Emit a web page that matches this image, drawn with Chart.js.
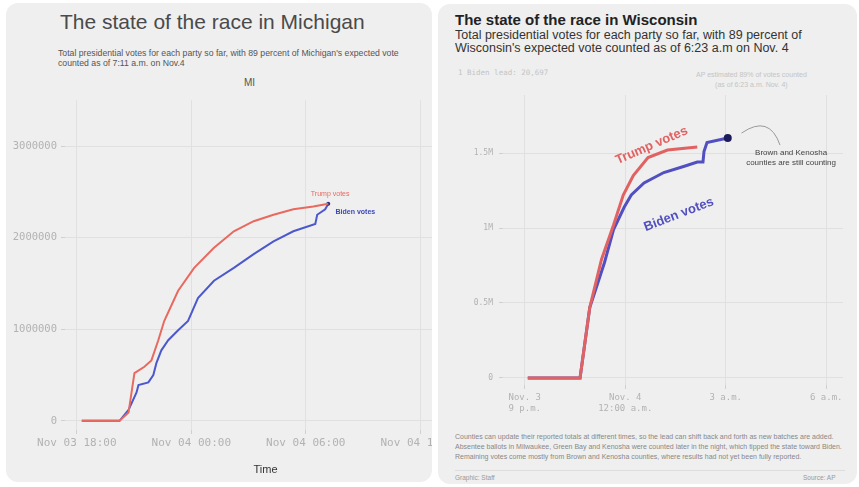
<!DOCTYPE html>
<html>
<head>
<meta charset="utf-8">
<script src="https://cdn.jsdelivr.net/npm/chart.js@4"></script>
<style>
  body { margin: 0; background: #fff; font-family: "Liberation Sans", Arial, sans-serif; }
  .card { position: absolute; background: #efefef; border-radius: 12px; overflow: hidden; }
  #mi { left: 6px; top: 3px; width: 426px; height: 479px; }
  #wi { left: 438px; top: 4px; width: 419px; height: 480px; }
  .t { position: absolute; white-space: nowrap; }
  canvas { position: absolute; }
</style>
</head>
<body>
<div class="card" id="mi">
  <div class="t" style="left:54px;top:7px;font-size:21px;color:#4a4a4a;">The state of the race in Michigan</div>
  <div class="t" style="left:52px;top:45px;font-size:8.7px;line-height:10px;color:#555;">Total presidential votes for each party so far, with 89 percent of Michigan's expected vote<br>counted as of 7:11 a.m. on Nov.4</div>
  <div class="t" style="left:238px;top:74px;font-size:10px;color:#555;">MI</div>
  <canvas id="miChart" width="462" height="390" style="left:2px;top:87px;"></canvas>
</div>
<div class="card" id="wi">
  <div class="t" style="left:17px;top:7px;font-size:15px;font-weight:bold;color:#222;">The state of the race in Wisconsin</div>
  <div class="t" style="left:17px;top:25px;font-size:12.5px;line-height:13px;color:#333;">Total presidential votes for each party so far, with 89 percent of<br>Wisconsin's expected vote counted as of 6:23 a.m on Nov. 4</div>
  <div class="t" style="left:20px;top:64px;font-size:7.5px;color:#c4c4c4;font-family:'DejaVu Sans Mono';">1 Biden lead: 20,697</div>
  <div class="t" style="left:258px;top:66px;font-size:7px;line-height:10px;color:#c4c4c4;text-align:center;">AP estimated 89% of votes counted<br>(as of 6:23 a.m. Nov. 4)</div>
  <canvas id="wiChart" width="415" height="350" style="left:2px;top:74px;"></canvas>
  <div class="t" style="left:17px;top:428px;font-size:7px;line-height:10px;color:#888;">Counties can update their reported totals at different times, so the lead can shift back and forth as new batches are added.<br>Absentee ballots in Milwaukee, Green Bay and Kenosha were counted later in the night, which tipped the state toward Biden.<br>Remaining votes come mostly from Brown and Kenosha counties, where results had not yet been fully reported.</div>
  <div style="position:absolute;left:17px;top:466px;width:390px;border-top:1px solid #ddd;"></div>
  <div class="t" style="left:17px;top:470px;font-size:6.5px;color:#999;">Graphic: Staff</div>
  <div class="t" style="left:365px;top:470px;font-size:6.5px;color:#999;">Source: AP</div>
</div>
<script>
// Michigan: hours since Nov 3 18:00
const miTicks = [0, 6, 12, 18]
const miTickLabels = ["Nov 03 18:00", "Nov 04 00:00", "Nov 04 06:00", "Nov 04 12:00"]
const miYTicks = [0, 1000000, 2000000, 3000000]
const miTrumpHours = [0.26, 2.24, 2.71, 3.02, 3.54, 3.91, 4.27, 4.58, 5.31, 6.15, 7.19, 8.23, 9.27, 10.31, 11.35, 12.4, 13.18]
const miTrumpVotes = [0, 0, 90000, 520000, 590000, 660000, 880000, 1090000, 1420000, 1670000, 1890000, 2070000, 2180000, 2250000, 2310000, 2340000, 2370000]
const miBidenHours = [0.26, 2.24, 2.71, 3.13, 3.23, 3.75, 4.01, 4.17, 4.43, 4.79, 5.31, 5.83, 6.35, 7.19, 8.23, 9.27, 10.31, 11.35, 12.5, 12.6, 13.02, 13.18]
const miBidenVotes = [0, 0, 120000, 310000, 390000, 420000, 500000, 630000, 770000, 880000, 990000, 1090000, 1340000, 1530000, 1670000, 1820000, 1960000, 2070000, 2150000, 2250000, 2310000, 2370000]

// Wisconsin: hours since Nov 3 9 p.m.
const wiTicks = [0, 3, 6, 9]
const wiTickLabels = [["Nov. 3", "9 p.m."], ["Nov. 4", "12:00 a.m."], "3 a.m.", "6 a.m."]
const wiYTicks = [0, 500000, 1000000, 1500000]
const wiYTickLabels = ["0", "0.5M", "1M", "1.5M"]
const wiTrumpHours = [0.09, 1.65, 1.94, 2.29, 2.65, 2.94, 3.24, 3.68, 4.26, 5.15]
const wiTrumpVotes = [0, 0, 470000, 790000, 1020000, 1220000, 1350000, 1470000, 1520000, 1540000]
const wiBidenHours = [0.09, 1.65, 1.94, 2.38, 2.65, 2.97, 3.18, 3.56, 4.15, 4.74, 5.15, 5.32, 5.35, 5.44, 6.06]
const wiBidenVotes = [0, 0, 470000, 770000, 990000, 1140000, 1220000, 1300000, 1370000, 1410000, 1440000, 1440000, 1510000, 1570000, 1600000]

const pts = (xs, ys) => xs.map((x, i) => ({ x, y: ys[i] }))

// draws text / curves at data coordinates
const notesPlugin = {
  id: "notes",
  afterDatasetsDraw(chart, args, opts) {
    const { ctx, scales } = chart
    const px = v => scales.x.getPixelForValue(v)
    const py = v => scales.y.getPixelForValue(v)
    ;(opts.texts || []).forEach(it => {
      ctx.save()
      ctx.font = it.font
      ctx.fillStyle = it.color
      ctx.textAlign = it.align || "center"
      ctx.textBaseline = "middle"
      ctx.translate(px(it.x), py(it.y))
      ctx.rotate(it.angle || 0)
      it.text.split("\n").forEach((t, i) => ctx.fillText(t, 0, i * (it.lh || 10)))
      ctx.restore()
    })
    ;(opts.curves || []).forEach(c => {
      ctx.save()
      ctx.strokeStyle = c.color
      ctx.lineWidth = 1
      ctx.beginPath()
      ctx.moveTo(px(c.from[0]), py(c.from[1]))
      ctx.quadraticCurveTo(px(c.ctrl[0]), py(c.ctrl[1]), px(c.to[0]), py(c.to[1]))
      ctx.stroke()
      ctx.restore()
    })
  },
}

const grid = { color: "#e0e0e0", tickLength: 4, tickColor: "#d0d0d0" }
const mono = "DejaVu Sans Mono"
const tickGray = "#b2b2b2"

new Chart(document.getElementById("miChart"), {
  type: "line",
  data: {
    datasets: [
      { data: pts(miTrumpHours, miTrumpVotes), borderColor: "#e8695f", borderWidth: 2, pointRadius: 0, tension: 0 },
      {
        data: pts(miBidenHours, miBidenVotes), borderColor: "#4c58cc", borderWidth: 2, tension: 0,
        pointRadius: miBidenHours.map((h, i) => (i === miBidenHours.length - 1 ? 2 : 0)),
        pointBackgroundColor: "#2b2f8a", pointBorderWidth: 0,
      },
    ],
  },
  options: {
    responsive: false,
    animation: false,
    devicePixelRatio: 1,
    layout: { padding: { top: 8, left: 0, right: 0, bottom: 0 } },
    plugins: {
      legend: { display: false },
      tooltip: { enabled: false },
      notes: {
        texts: [
          { x: 13.28, y: 2480000, text: "Trump votes", font: "7px Liberation Sans", color: "#e8695f" },
          { x: 14.6, y: 2275000, text: "Biden votes", font: "bold 7px Liberation Sans", color: "#3c48b8" },
        ],
      },
    },
    scales: {
      x: {
        type: "linear", min: -0.62, max: 20.4,
        afterBuildTicks: s => { s.ticks = miTicks.map(v => ({ value: v })) },
        afterFit: s => { s.height = 50 },
        ticks: { autoSkip: false, maxRotation: 0, padding: 3, color: tickGray, font: { size: 11, family: mono },
          callback: (v, i) => miTickLabels[i] },
        grid,
        border: { display: false },
        title: { display: true, text: "Time", color: "#333", font: { size: 11 }, padding: { top: 4, bottom: 3 } },
      },
      y: {
        min: -100000, max: 3500000,
        afterBuildTicks: s => { s.ticks = miYTicks.map(v => ({ value: v })) },
        afterFit: s => { s.width = 57 },
        ticks: { padding: 4, color: tickGray, font: { size: 10.5, family: mono }, callback: v => String(v) },
        grid,
        border: { display: false },
      },
    },
  },
  plugins: [notesPlugin],
})

new Chart(document.getElementById("wiChart"), {
  type: "line",
  data: {
    datasets: [
      { data: pts(wiTrumpHours, wiTrumpVotes), borderColor: "#e06262", borderWidth: 3, pointRadius: 0, tension: 0 },
      {
        data: pts(wiBidenHours, wiBidenVotes), borderColor: "#5250c0", borderWidth: 3, tension: 0,
        pointRadius: wiBidenHours.map((h, i) => (i === wiBidenHours.length - 1 ? 4 : 0)),
        pointBackgroundColor: "#1c1c5c", pointBorderWidth: 0,
      },
    ],
  },
  options: {
    responsive: false,
    animation: false,
    devicePixelRatio: 1,
    layout: { padding: { top: 17, left: 0, right: 12, bottom: 0 } },
    plugins: {
      legend: { display: false },
      tooltip: { enabled: false },
      notes: {
        texts: [
          { x: 3.79, y: 1550000, angle: -0.41, text: "Trump votes", font: "bold 13px Liberation Sans", color: "#e06262" },
          { x: 4.6, y: 1090000, angle: -0.37, text: "Biden votes", font: "bold 13px Liberation Sans", color: "#5250c0" },
          { x: 7.95, y: 1500000, text: "Brown and Kenosha\ncounties are still counting", lh: 10, font: "8px Liberation Sans", color: "#444" },
        ],
        curves: [{ from: [6.47, 1633000], ctrl: [7.3, 1760000], to: [7.62, 1553000], color: "#999" }],
      },
    },
    scales: {
      x: {
        type: "linear", min: -0.65, max: 9.5,
        afterBuildTicks: s => { s.ticks = wiTicks.map(v => ({ value: v })) },
        afterFit: s => { s.height = 43 },
        ticks: { autoSkip: false, maxRotation: 0, padding: 3, color: tickGray, font: { size: 9, family: mono },
          callback: (v, i) => wiTickLabels[i] },
        grid,
        border: { display: false },
      },
      y: {
        min: -47000, max: 1887000,
        afterBuildTicks: s => { s.ticks = wiYTicks.map(v => ({ value: v })) },
        afterFit: s => { s.width = 63 },
        ticks: { padding: 6, color: tickGray, font: { size: 8, family: mono }, callback: (v, i) => wiYTickLabels[i] },
        grid,
        border: { display: false },
      },
    },
  },
  plugins: [notesPlugin],
})
</script>
</body>
</html>
